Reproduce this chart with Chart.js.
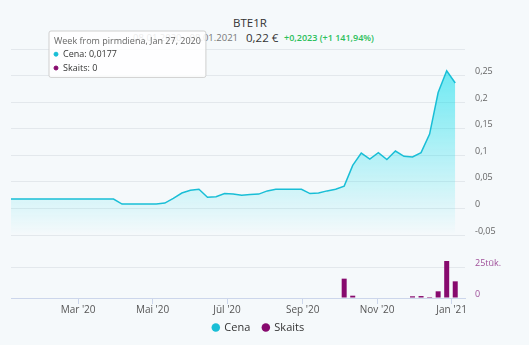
<!DOCTYPE html>
<html>
<head>
<meta charset="utf-8">
<script src="https://cdn.jsdelivr.net/npm/chart.js@4.4.0/dist/chart.umd.min.js"></script>
<style>
  body { margin: 0; background: #f5f9fb; font-family: "Open Sans", sans-serif; }
  #wrap { position: relative; width: 529px; height: 345px; overflow: hidden; }
  #wrap canvas { position: absolute; left: 0; top: 0; }
  .t { position: absolute; white-space: nowrap; line-height: 14px; }
</style>
</head>
<body>
<div id="wrap">
  <div class="t" style="left:0;width:500px;text-align:center;top:16px;font-size:11.5px;color:#333">BTE1R</div>
  <div class="t" style="right:291px;top:31px;font-size:9.5px;color:#777">08.01.2020 - 08.01.2021</div>
  <div class="t" style="left:246px;top:31px;font-size:11.5px;color:#333">0,22 €</div>
  <div class="t" style="left:284px;top:31px;font-size:9px;color:#2bbf5a;font-weight:600">+0,2023 (+1 141,94%)</div>
  <canvas id="chart" width="529" height="345"></canvas>
</div>
<script>
// weekly points, week starting on Monday
const weeks = [
  '2020-01-06', '2020-01-13', '2020-01-20', '2020-01-27',
  '2020-02-03', '2020-02-10', '2020-02-17', '2020-02-24',
  '2020-03-02', '2020-03-09', '2020-03-16', '2020-03-23', '2020-03-30',
  '2020-04-06', '2020-04-13', '2020-04-20', '2020-04-27',
  '2020-05-04', '2020-05-11', '2020-05-18', '2020-05-25',
  '2020-06-01', '2020-06-08', '2020-06-15', '2020-06-22', '2020-06-29',
  '2020-07-06', '2020-07-13', '2020-07-20', '2020-07-27',
  '2020-08-03', '2020-08-10', '2020-08-17', '2020-08-24', '2020-08-31',
  '2020-09-07', '2020-09-14', '2020-09-21', '2020-09-28',
  '2020-10-05', '2020-10-12', '2020-10-19', '2020-10-26',
  '2020-11-02', '2020-11-09', '2020-11-16', '2020-11-23', '2020-11-30',
  '2020-12-07', '2020-12-14', '2020-12-21', '2020-12-28',
  '2021-01-04'
];
const cena = [
  0.0177, 0.0177, 0.0177, 0.0177, 0.0177, 0.0177, 0.0177, 0.0177, 0.0177, 0.0177,
  0.0177, 0.0177, 0.0177, 0.0082, 0.0082, 0.0082, 0.0082, 0.0082, 0.010, 0.019,
  0.029, 0.034, 0.036, 0.021, 0.022, 0.028, 0.027, 0.025, 0.026, 0.027,
  0.033, 0.036, 0.036, 0.036, 0.036, 0.028, 0.029, 0.033, 0.036, 0.042,
  0.081, 0.104, 0.093, 0.105, 0.092, 0.108, 0.098, 0.097, 0.105, 0.140,
  0.218, 0.259, 0.236
];
const skaits = [
  0, 0, 0, 0, 0, 0, 0, 0, 0, 0,
  0, 0, 0, 0, 0, 0, 0, 0, 0, 0,
  0, 0, 0, 0, 0, 0, 0, 0, 0, 0,
  0, 0, 0, 0, 0, 0, 0, 0, 0, 15900,
  1900, 0, 0, 0, 0, 0, 0, 1400, 1600, 800,
  5500, 30400, 13700
];
const monthTicks = ['2020-03-01', '2020-05-01', '2020-07-01', '2020-09-01', '2020-11-01', '2021-01-01'];
const monthLabels = ["Mar '20", "Mai '20", "Jūl '20", "Sep '20", "Nov '20", "Jan '21"];
const priceTicks = [-0.05, 0, 0.05, 0.1, 0.15, 0.2, 0.25, 0.3];
const volumeTicks = [0, 25000];

const DAY = 86400000;
const t0 = Date.parse(weeks[0]);
const dayOf = d => (Date.parse(d) - t0) / DAY;
const xs = weeks.map(dayOf);
const monthX = monthTicks.map(dayOf);
const monNames = ['Jan', 'Feb', 'Mar', 'Apr', 'May', 'Jun', 'Jul', 'Aug', 'Sep', 'Oct', 'Nov', 'Dec'];

const fmt = v => String(Number(v.toFixed(4))).replace('.', ',');

const cenaColor = '#19bed6';
const skaitsColor = '#870a6e';
const gridColor = '#e3e8ec';

Chart.Tooltip.positioners.topLeft = function () {
  return { x: 51, y: 31, xAlign: 'left', yAlign: 'top' };
};

const chart = new Chart(document.getElementById('chart'), {
  type: 'line',
  data: {
    datasets: [
      {
        type: 'line',
        label: 'Cena',
        data: xs.map((x, i) => ({ x: x, y: cena[i] })),
        yAxisID: 'y',
        borderColor: cenaColor,
        borderWidth: 1.5,
        pointRadius: 0,
        tension: 0,
        fill: 'start',
        backgroundColor: function (ctx) {
          const c = ctx.chart;
          const s = c.scales.y;
          if (!c.chartArea || !s) return 'rgba(0,220,235,0.3)';
          const g = c.ctx.createLinearGradient(0, s.top, 0, s.bottom);
          g.addColorStop(0, 'rgba(0,220,235,0.62)');
          g.addColorStop(1, 'rgba(0,220,235,0)');
          return g;
        }
      },
      {
        type: 'bar',
        label: 'Skaits',
        data: xs.map((x, i) => ({ x: x, y: skaits[i] })),
        yAxisID: 'y1',
        backgroundColor: skaitsColor,
        barThickness: 5,
        inflateAmount: 0
      }
    ]
  },
  options: {
    responsive: false,
    animation: false,
    devicePixelRatio: 1,
    events: [],
    layout: { padding: { top: 49, left: 11, right: 23, bottom: 2 } },
    scales: {
      x: {
        type: 'linear',
        offset: false,
        min: 0,
        max: 372,
        afterBuildTicks: s => { s.ticks = monthX.map(v => ({ value: v })); },
        afterFit: s => { s.height = 20; },
        ticks: {
          padding: 0,
          maxRotation: 0,
          autoSkip: false,
          color: '#555',
          font: { family: 'Open Sans', size: 10 },
          callback: v => monthLabels[monthX.indexOf(v)]
        },
        grid: { offset: false, drawOnChartArea: false, drawTicks: true, tickLength: 6, color: '#ccd6eb' },
        border: { color: '#ccd6eb' }
      },
      y: {
        position: 'right',
        stack: 'panes',
        stackWeight: 186,
        min: -0.05,
        max: 0.3,
        afterBuildTicks: s => { s.ticks = priceTicks.map(v => ({ value: v })); },
        afterFit: s => { s.width = 41; },
        ticks: {
          autoSkip: false,
          padding: 10,
          color: '#666',
          font: { family: 'Open Sans', size: 9, lineHeight: '8px' },
          callback: v => v > 0.29 ? '' : [fmt(v), '']
        },
        grid: { color: gridColor, drawTicks: false },
        border: { display: false }
      },
      y1: {
        position: 'right',
        stack: 'panes',
        stackWeight: 63,
        min: 0,
        max: 51800,
        afterBuildTicks: s => { s.ticks = volumeTicks.map(v => ({ value: v })); },
        afterFit: s => { s.width = 41; },
        ticks: {
          autoSkip: false,
          padding: 10,
          color: '#a0509a',
          font: { family: 'Open Sans', size: 9, lineHeight: '8px' },
          callback: v => [v === 0 ? '0' : (v / 1000) + 'tūk.', '']
        },
        grid: { color: gridColor, drawTicks: false },
        border: { display: false }
      }
    },
    plugins: {
      legend: {
        position: 'bottom',
        labels: {
          usePointStyle: true,
          pointStyle: 'circle',
          boxWidth: 6,
          boxHeight: 6,
          padding: 4,
          color: '#333',
          font: { family: 'Open Sans', size: 11 },
          // extra spaces after the first label keep the two items apart
          generateLabels: c => Chart.Legend.defaults.labels.generateLabels(c).map((l, i) => {
            const col = i ? skaitsColor : cenaColor;
            l.fillStyle = col;
            l.strokeStyle = col;
            l.lineWidth = 0;
            if (i === 0) l.text = l.text + '   ';
            return l;
          })
        }
      },
      tooltip: {
        position: 'topLeft',
        xAlign: 'left',
        yAlign: 'top',
        caretSize: 0,
        caretPadding: 0,
        cornerRadius: 2,
        backgroundColor: 'rgba(255,255,255,0.85)',
        borderColor: '#cfcfcf',
        borderWidth: 1,
        padding: { top: 5, bottom: 4, left: 5, right: 5 },
        titleColor: '#666',
        titleFont: { family: 'Open Sans', size: 9, weight: 'normal' },
        titleMarginBottom: 2,
        bodyColor: '#333',
        bodyFont: { family: 'Open Sans', size: 9 },
        bodySpacing: 3,
        usePointStyle: true,
        boxWidth: 4,
        boxHeight: 4,
        boxPadding: 3,
        callbacks: {
          title: items => {
            const d = new Date(weeks[items[0].dataIndex] + 'T00:00:00Z');
            return 'Week from pirmdiena, ' + monNames[d.getUTCMonth()] + ' ' + d.getUTCDate() + ', ' + d.getUTCFullYear();
          },
          label: ctx => ctx.dataset.label + ': ' + fmt(ctx.parsed.y),
          labelColor: ctx => ({ borderColor: ctx.datasetIndex ? skaitsColor : cenaColor, backgroundColor: ctx.datasetIndex ? skaitsColor : cenaColor }),
          labelPointStyle: () => ({ pointStyle: 'circle', rotation: 0 })
        }
      }
    }
  }
});

chart.tooltip.setActiveElements([{ datasetIndex: 0, index: 3 }, { datasetIndex: 1, index: 3 }], { x: 40, y: 190 });
chart.update();
</script>
</body>
</html>
